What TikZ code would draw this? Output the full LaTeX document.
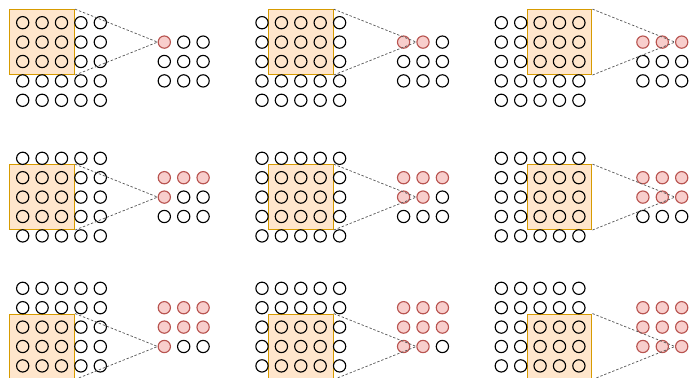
\documentclass[tikz,border=0pt]{standalone}
\usepackage{tikz}
\usetikzlibrary{positioning, calc}
\definecolor{winFill}{RGB}{255,230,204}
\definecolor{winLine}{RGB}{215,155,0}
\definecolor{outFill}{RGB}{248,206,204}
\definecolor{outLine}{RGB}{184,84,80}

\begin{document}
\begin{tikzpicture}[x=0.75pt, y=-0.75pt,
    cell/.style={circle, draw=black, line width=0.85pt, inner sep=0pt, minimum size=9.2pt},
    hit/.style={cell, draw=outLine, fill=outFill},
    window/.style={rectangle, draw=winLine, fill=winFill, line width=0.8pt, inner sep=0pt, minimum size=48.6pt},
    link/.style={black!65, line width=0.55pt, dash pattern=on 1.8pt off 1.4pt}]
  \useasboundingbox (0,0) rectangle (690,378);
  \foreach \r/\py in {0/22.7, 1/158.3, 2/288.3}{
    \foreach \c in {0,1,2}{
      \pgfmathsetmacro{\px}{22.7+239.3*\c}
      % sliding window
      \node[window] (win-\r-\c) at (\px+19.4*\c+19.4, \py+19.4*\r+19.4) {};
      % 5x5 input
      \foreach \i in {0,...,4}{
        \foreach \j in {0,...,4}{
          \node[cell] (in-\r-\c-\i-\j) at (\px+19.4*\j, \py+19.4*\i) {};
        }
      }
      % 3x3 output
      \foreach \i in {0,1,2}{
        \foreach \j in {0,1,2}{
          \ifnum\numexpr3*\i+\j\relax>\numexpr3*\r+\c\relax
            \def\sty{cell}\else\def\sty{hit}\fi
          \node[\sty] (out-\r-\c-\i-\j) at (\px+141.6+19.4*\j, \py+19.4+19.4*\i) {};
        }
      }
      \draw[link] (win-\r-\c.north east) -- (out-\r-\c-\r-\c.west);
      \draw[link] (win-\r-\c.south east) -- (out-\r-\c-\r-\c.west);
    }
  }
\end{tikzpicture}
\end{document}
